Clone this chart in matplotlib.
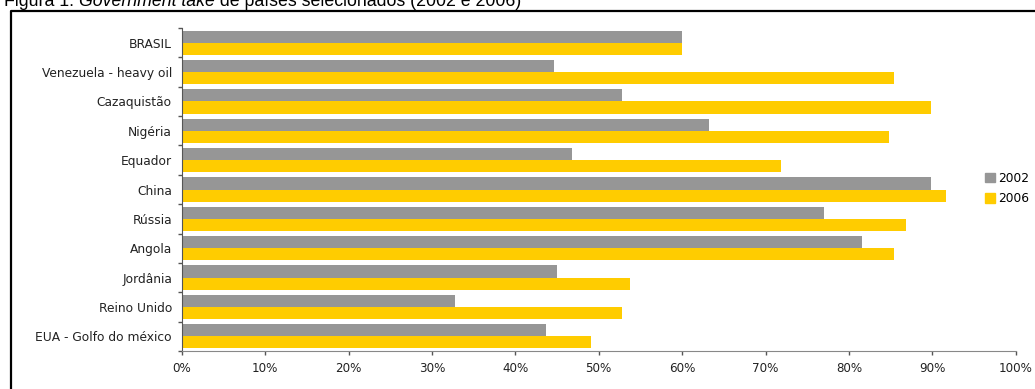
import numpy as np
import matplotlib
matplotlib.use("Agg")
import matplotlib.pyplot as plt
from matplotlib.lines import Line2D
from matplotlib.patches import Patch
from matplotlib.ticker import FixedLocator, PercentFormatter

# Dados
paises = ["BRASIL", "Venezuela - heavy oil", "Cazaquistão", "Nigéria", "Equador",
          "China", "Rússia", "Angola", "Jordânia", "Reino Unido",
          "EUA - Golfo do méxico"]
take_2002 = [60.0, 44.7, 52.8, 63.2, 46.8, 89.8, 77.0, 81.6, 45.0, 32.8, 43.7]
take_2006 = [60.0, 85.4, 89.8, 84.8, 71.9, 91.6, 86.9, 85.4, 53.8, 52.8, 49.1]
anos = ["2002", "2006"]

cinza = "#969696"
amarelo = "#FFCC00"

W, H = 1035, 389
fig = plt.figure(figsize=(W / 100, H / 100), dpi=100)
ax = fig.add_axes([181.7 / W, 1 - 351 / H, 834 / W, 323 / H])

n = len(paises)
y = np.arange(n)[::-1]
h = 0.413
ax.barh(y + h / 2, take_2002, height=h, color=cinza, label=anos[0])
ax.barh(y - h / 2, take_2006, height=h, color=amarelo, label=anos[1])

ax.set_xlim(0, 100)
ax.set_ylim(-0.5, n - 0.5)
ax.xaxis.set_major_locator(FixedLocator(np.arange(0, 101, 10)))
ax.xaxis.set_major_formatter(PercentFormatter(decimals=0))

# rotulos no centro, marcas nas divisas
ax.set_yticks(y)
ax.set_yticklabels(paises)
ax.yaxis.set_minor_locator(FixedLocator(np.arange(-0.5, n, 1.0)))
ax.tick_params(axis="y", which="major", length=0, pad=7, labelsize=8.8, labelcolor="#222222")
ax.tick_params(axis="y", which="minor", length=3, width=1, color="#555555", direction="out")
ax.tick_params(axis="x", length=3, width=1, color="#555555", direction="out",
               labelsize=8.6, labelcolor="#222222", pad=5)

for s in ["top", "right"]:
    ax.spines[s].set_visible(False)
ax.spines["left"].set_color("#555555")
ax.spines["bottom"].set_color("#888888")

handles = [Patch(color=cinza, label=anos[0]), Patch(color=amarelo, label=anos[1])]
fig.legend(handles=handles, loc="upper left", bbox_to_anchor=(985 / W, 1 - 172 / H),
           frameon=False, fontsize=8.8, handlelength=0.8, handleheight=0.8,
           handletextpad=0.25, labelspacing=0.6, borderpad=0, borderaxespad=0)

# moldura
fig.add_artist(Line2D([11 / W, 11 / W, 1.0], [0.0, 1 - 11 / H, 1 - 11 / H],
                      transform=fig.transFigure, color="black", lw=1.6))

# titulo com trecho em italico
partes = [("Figura 1: ", "normal"), ("Government take", "italic"),
          (" de países selecionados (2002 e 2006)", "normal")]
r = fig.canvas.get_renderer()
x0 = 4
for txt, estilo in partes:
    t = fig.text(x0 / W, 1 - 6 / H, txt, fontsize=12.8, family="Liberation Sans",
                 style=estilo, va="baseline", ha="left")
    bb = t.get_window_extent(renderer=r)
    x0 += bb.width

fig.savefig("out.png", dpi=100)
